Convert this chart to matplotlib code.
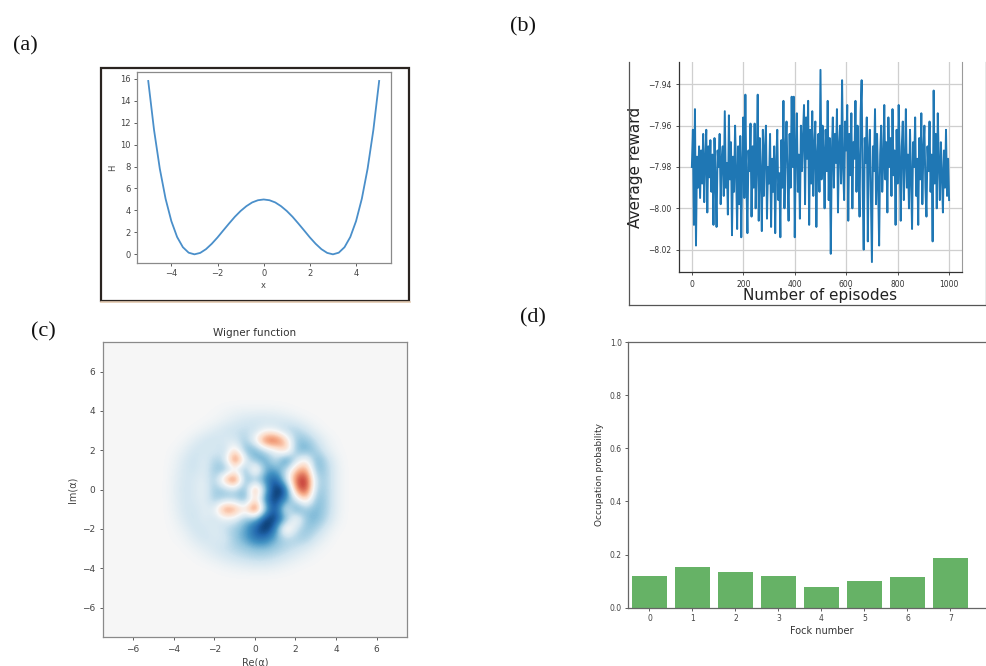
import numpy as np
import matplotlib
matplotlib.use("Agg")
import matplotlib.pyplot as plt
from matplotlib.patches import Rectangle
from matplotlib.lines import Line2D

# ---------------- data ----------------
# (a) double-well potential
x_pot = [-5.0, -4.75, -4.5, -4.25, -4.0, -3.75, -3.5, -3.25, -3.0, -2.75, -2.5, -2.25, -2.0,
         -1.75, -1.5, -1.25, -1.0, -0.75, -0.5, -0.25, 0.0, 0.25, 0.5, 0.75, 1.0, 1.25, 1.5,
         1.75, 2.0, 2.25, 2.5, 2.75, 3.0, 3.25, 3.5, 3.75, 4.0, 4.25, 4.5, 4.75, 5.0]
H_pot = [15.80, 11.35, 7.81, 5.07, 3.03, 1.58, 0.65, 0.15, 0.00, 0.13, 0.47, 0.96, 1.54,
         2.18, 2.81, 3.42, 3.95, 4.39, 4.73, 4.93, 5.00, 4.93, 4.73, 4.39, 3.95, 3.42, 2.81,
         2.18, 1.54, 0.96, 0.47, 0.13, 0.00, 0.15, 0.65, 1.58, 3.03, 5.07, 7.81, 11.35, 15.80]

# (b) average reward per episode (read every 4 episodes, in units of 1e-3 above -8)
episodes = list(range(0, 1001, 4))
reward_milli = [
    20, 38, -8, 48, -18, 25, 10, 30, 5, 28,
    12, 36, 3, 24, 38, -2, 30, 15, 33, 8,
    26, -8, 34, 14, -9, 28, 20, 36, 2, 24,
    30, 6, 47, 10, 22, -3, 45, 14, 32, -13,
    25, 8, 40, 18, -10, 30, 2, 35, -14, 22,
    44, 5, 55, 12, -12, 28, 18, 41, -4, 30,
    10, 41, 0, 22, 55, -6, 34, 16, -11, 38,
    6, 29, 40, -5, 20, 12, 36, -9, 24, 8,
    30, -12, 22, 38, 4, 17, -14, 33, 10, 52,
    0, 28, 42, 15, -6, 36, 10, 54, 20, 54,
    -14, 30, 46, 8, 26, -5, 40, 18, 35, 50,
    2, 44, 24, 52, -8, 38, 12, 47, 6, 30,
    42, -9, 26, 36, 8, 67, 14, 40, 28, 0,
    38, 18, 52, 4, 34, -22, 26, 44, 10, 36,
    22, 48, -2, 30, 40, 12, 62, 20, 4, 42,
    28, 50, -6, 36, 16, 46, 0, 32, 24, 52,
    8, 40, 20, -4, 46, 62, 10, -20, 34, 22,
    44, -16, 28, 38, 6, -26, 30, 18, 48, 2,
    36, 12, -18, 26, 40, 8, 22, 50, 14, 32,
    -2, 44, 20, 34, 6, 48, 16, 28, -8, 38,
    12, 50, 24, -6, 30, 42, 4, 22, 48, 10,
    26, 0, 38, 16, -10, 32, 20, 44, 6, 24,
    -8, 34, 14, 46, 2, 28, 40, 10, -4, 30,
    18, 42, 8, 26, -16, 57, 12, 36, 0, 46,
    22, 4, 32, 16, -2, 28, 10, 38, 6, 24,
    4]
reward = [-8.0 + v / 1000.0 for v in reward_milli]

# (c) Wigner function sampled on a 0.5 grid (rows: Im = 4.5 .. -4.5, cols: Re = -4.5 .. 4.5), x100
wigner_rows = [
    [0, 0, 0, 0, 0, 0, 0, 0, 0, 0, 0, 0, 0, 0, 0, 0, 0, 0, 0],
    [0, 0, 0, 0, 0, 1, 3, 5, 6, 6, 6, 5, 3, 1, 0, 0, 0, 0, 0],
    [0, 0, 0, 0, 1, 3, 7, 12, 16, 18, 19, 18, 15, 10, 4, 1, 0, 0, 0],
    [0, 0, 0, 2, 6, 12, 18, 21, 23, 20, 5, 10, 28, 30, 18, 6, 1, 0, 0],
    [0, 0, 3, 10, 18, 20, 13, 15, 35, -5, -65, -70, -25, 38, 38, 20, 6, 1, 0],
    [0, 2, 8, 18, 18, 12, 25, -20, 45, 50, 20, 5, -35, 40, 50, 30, 10, 2, 0],
    [0, 4, 14, 22, 10, 30, 20, -75, 5, 45, 55, 15, 75, 20, -10, 50, 25, 6, 0],
    [0, 6, 16, 20, 10, 35, 45, 10, 50, -35, 50, 50, 25, -30, -45, 45, 30, 8, 0],
    [0, 7, 17, 15, 8, 35, -35, -80, 45, 40, 60, 85, 20, -60, -80, 30, 30, 8, 0],
    [0, 8, 18, 15, 6, 35, 35, 25, 50, -60, 45, 100, 85, -50, -75, 35, 30, 8, 0],
    [0, 7, 17, 15, 8, 35, 30, 30, 50, -20, 70, 95, 60, 15, -30, 45, 30, 8, 0],
    [0, 6, 17, 18, 10, 10, -60, -45, -10, -85, 40, 90, 0, 60, 35, 45, 30, 8, 0],
    [0, 4, 14, 20, 10, 20, 10, 10, 40, 45, 95, 90, 50, -15, 40, 45, 25, 6, 0],
    [0, 2, 8, 18, 18, 10, 22, 35, 50, 80, 100, 65, -30, 20, 40, 30, 12, 2, 0],
    [0, 1, 4, 12, 18, 15, 14, 35, 50, 70, 70, 45, 28, 32, 32, 15, 5, 0, 0],
    [0, 0, 1, 5, 10, 16, 22, 28, 34, 40, 40, 34, 27, 20, 12, 5, 1, 0, 0],
    [0, 0, 0, 1, 4, 8, 13, 18, 22, 25, 25, 20, 14, 8, 4, 1, 0, 0, 0],
    [0, 0, 0, 0, 0, 1, 3, 5, 7, 8, 8, 6, 3, 1, 0, 0, 0, 0, 0],
    [0, 0, 0, 0, 0, 0, 0, 0, 0, 0, 0, 0, 0, 0, 0, 0, 0, 0, 0],
]

# (d) Fock distribution
fock_n = [0, 1, 2, 3, 4, 5, 6, 7]
fock_p = [0.120, 0.155, 0.133, 0.120, 0.077, 0.102, 0.117, 0.188]

# ---------------- figure ----------------
W, Hpx = 987, 666
fig = plt.figure(figsize=(W / 100, Hpx / 100), dpi=100)
fig.patch.set_facecolor("white")


def frac(l, t, r, b):
    return [l / W, (Hpx - b) / Hpx, (r - l) / W, (b - t) / Hpx]


def fx(px):
    return px / W


def fy(py):
    return (Hpx - py) / Hpx


tick_col = "#444444"
spine_col = "#8a8a8a"
panel_font = dict(family=["Liberation Serif", "DejaVu Serif"], fontsize=16, color="#111111")

# ---- (a) ----
axA = fig.add_axes(frac(136.7, 72.3, 390.7, 263))
axA.plot(x_pot, H_pot, color="#4a8fca", lw=1.3)
axA.set_xticks([-4, -2, 0, 2, 4])
axA.set_yticks([0, 2, 4, 6, 8, 10, 12, 14, 16])
axA.set_xlabel("x", fontsize=6, color=tick_col, labelpad=2)
axA.set_ylabel("H", fontsize=6, color=tick_col, labelpad=2)
axA.tick_params(labelsize=6, colors=tick_col, length=2.5, width=0.6, pad=2)
for s in axA.spines.values():
    s.set_color(spine_col)
    s.set_linewidth(0.9)
fig.add_artist(Rectangle((fx(100.7), fy(301)), (409.3 - 100.7) / W, (301 - 67.7) / Hpx,
                         transform=fig.transFigure, fill=False, ec="#2a2420", lw=1.6))
fig.add_artist(Line2D([fx(101), fx(410)], [fy(302.5), fy(302.5)], transform=fig.transFigure,
                      color="#e6cdb4", lw=1.2))
fig.text(fx(25), fy(46), "(a)", ha="center", va="center", **panel_font)

# ---- (b) ----
axB = fig.add_axes(frac(679, 62, 961.7, 272))
axB.plot(episodes, reward, color="#1f77b4", lw=1.4)
axB.set_xlim(-50, 1049)
axB.set_ylim(-8.0308, -7.9292)
axB.set_xticks([0, 200, 400, 600, 800, 1000])
axB.set_yticks([-8.02, -8.00, -7.98, -7.96, -7.94])
axB.set_yticklabels(["\u22128.02", "\u22128.00", "\u22127.98", "\u22127.96", "\u22127.94"])
axB.grid(True, color="#cfcfcf", lw=0.9)
axB.set_axisbelow(True)
axB.tick_params(labelsize=5.5, colors="#333333", length=2.5, width=0.6, pad=3)
axB.set_xlabel("Number of episodes", fontsize=11, color="#222222")
axB.set_ylabel("Average reward", fontsize=11, color="#222222")
axB.xaxis.set_label_coords(0.499, -0.075)
axB.yaxis.set_label_coords(-0.127, 0.5)
axB.spines["top"].set_visible(False)
for k in ["left", "bottom"]:
    axB.spines[k].set_color("#333333")
    axB.spines[k].set_linewidth(0.9)
axB.spines["right"].set_color("#9a9a9a")
for xs, ys in [([629, 629], [62, 305]), ([629, 986], [305, 305]), ([986, 986], [62, 305])]:
    fig.add_artist(Line2D([fx(v) for v in xs], [fy(v) for v in ys], transform=fig.transFigure,
                          color="#555555", lw=0.9))
fig.text(fx(523), fy(27), "(b)", ha="center", va="center", **panel_font)

# ---- (c) ----
axC = fig.add_axes(frac(102.7, 342, 407, 637))
Wg = np.array(wigner_rows, dtype=float) / 100.0
pad = 6
Wg = np.pad(Wg, pad, mode="constant")
half = 0.25 + 4.5 + pad * 0.5
axC.imshow(Wg, cmap="RdBu", vmin=-0.95, vmax=0.95, interpolation="bicubic",
           interpolation_stage="data",
           extent=[-half, half, -half, half], origin="upper", aspect="auto")
axC.set_xlim(-7.5, 7.5)
axC.set_ylim(-7.5, 7.5)
axC.set_xticks([-6, -4, -2, 0, 2, 4, 6])
axC.set_yticks([-6, -4, -2, 0, 2, 4, 6])
axC.tick_params(labelsize=6.5, colors=tick_col, length=2.5, width=0.6, pad=3)
axC.set_title("Wigner function", fontsize=7.5, color="#333333", pad=4)
axC.set_xlabel("Re(\u03b1)", fontsize=7, color=tick_col, labelpad=3)
axC.set_ylabel("Im(\u03b1)", fontsize=7, color=tick_col, labelpad=3)
for s in axC.spines.values():
    s.set_color(spine_col)
    s.set_linewidth(0.9)
fig.text(fx(43), fy(332), "(c)", ha="center", va="center", **panel_font)

# ---- (d) ----
axD = fig.add_axes(frac(628, 342, 1015, 607.7))
axD.bar(fock_n, fock_p, width=0.8, color="green", alpha=0.6)
axD.set_xlim(-0.5, 8.5)
axD.set_ylim(0, 1.0)
axD.set_xticks(fock_n)
axD.set_yticks([0.0, 0.2, 0.4, 0.6, 0.8, 1.0])
axD.tick_params(labelsize=5.5, colors=tick_col, length=2.5, width=0.6, pad=2)
axD.set_xlabel("Fock number", fontsize=7, color="#333333", labelpad=2)
axD.set_ylabel("Occupation probability", fontsize=6.5, color="#333333", labelpad=4)
for s in axD.spines.values():
    s.set_color("#666666")
    s.set_linewidth(0.9)
fig.text(fx(533), fy(318), "(d)", ha="center", va="center", **panel_font)

fig.savefig("out.png", dpi=100)
